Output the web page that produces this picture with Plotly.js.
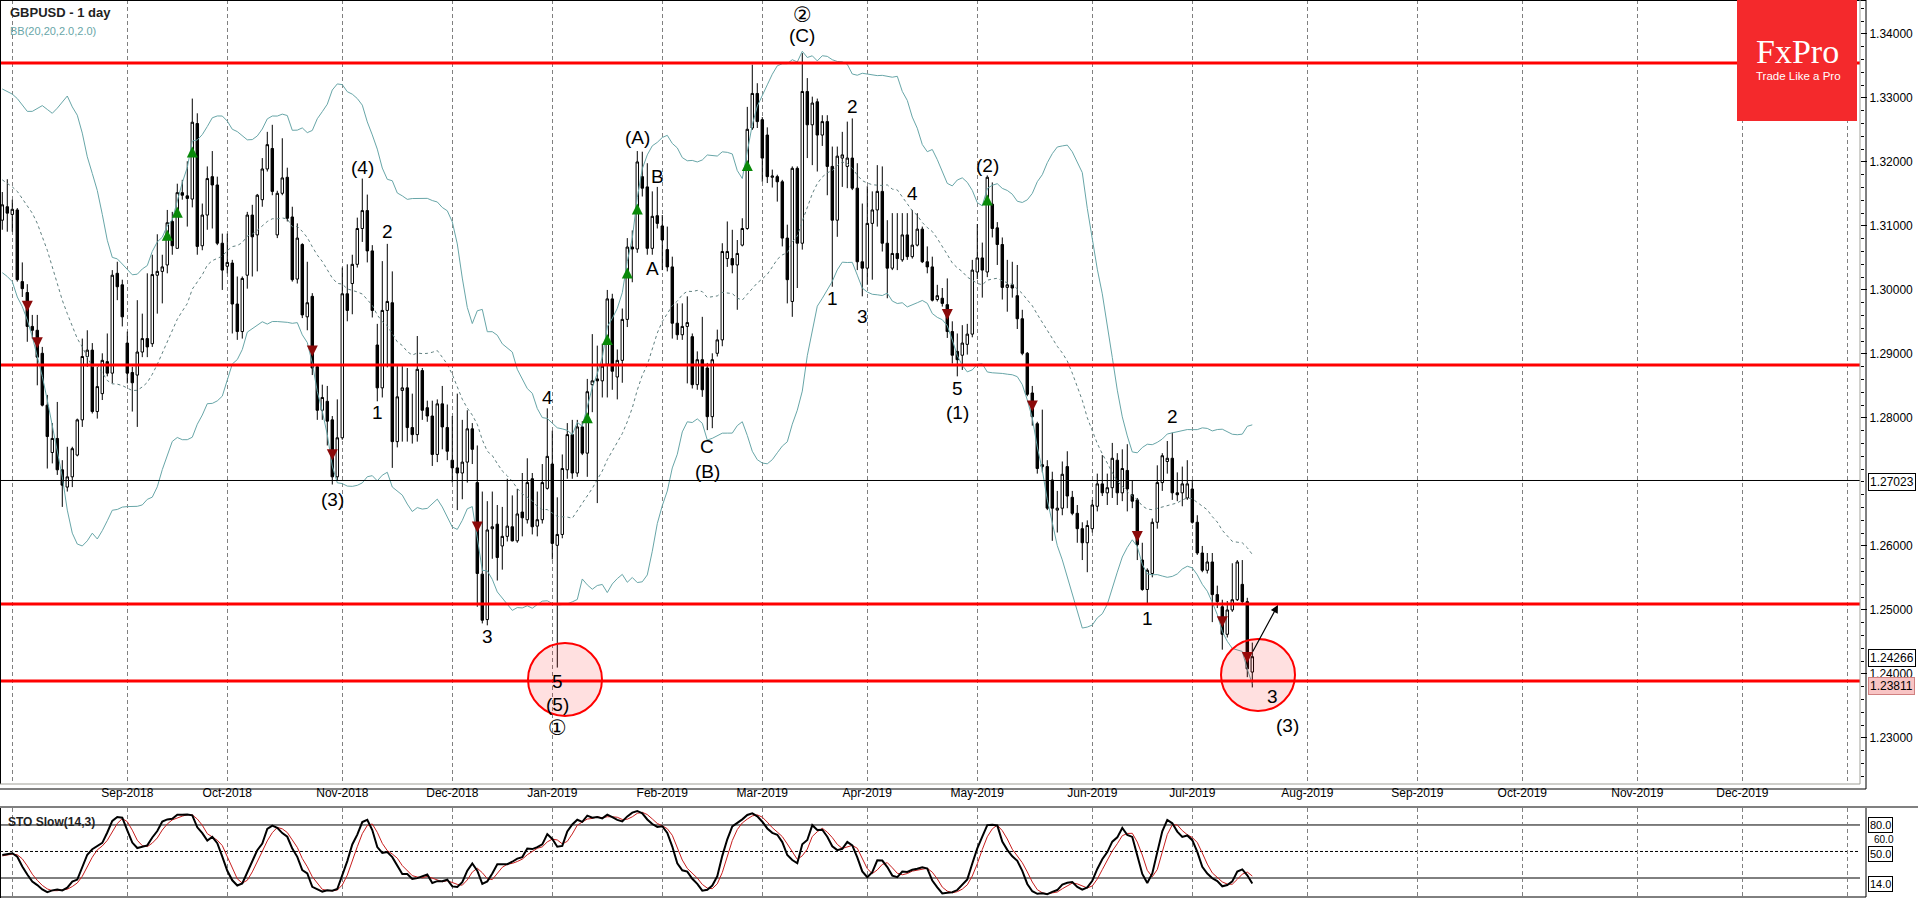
<!DOCTYPE html>
<html><head><meta charset="utf-8">
<script src="https://cdn.plot.ly/plotly-3.0.1.min.js"></script>
<style>html,body{margin:0;padding:0;background:#fff;overflow:hidden}#chart{width:1918px;height:898px}</style>
</head><body><div id="chart"></div>
<script>
// ---------------- DATA ----------------
const dates = [
'2018-07-30','2018-07-31',
'2018-08-01','2018-08-02','2018-08-03','2018-08-06','2018-08-07','2018-08-08','2018-08-09','2018-08-10','2018-08-13','2018-08-14','2018-08-15','2018-08-16','2018-08-17','2018-08-20','2018-08-21','2018-08-22','2018-08-23','2018-08-24','2018-08-27','2018-08-28','2018-08-29','2018-08-30','2018-08-31',
'2018-09-03','2018-09-04','2018-09-05','2018-09-06','2018-09-07','2018-09-10','2018-09-11','2018-09-12','2018-09-13','2018-09-14','2018-09-17','2018-09-18','2018-09-19','2018-09-20','2018-09-21','2018-09-24','2018-09-25','2018-09-26','2018-09-27','2018-09-28',
'2018-10-01','2018-10-02','2018-10-03','2018-10-04','2018-10-05','2018-10-08','2018-10-09','2018-10-10','2018-10-11','2018-10-12','2018-10-15','2018-10-16','2018-10-17','2018-10-18','2018-10-19','2018-10-22','2018-10-23','2018-10-24','2018-10-25','2018-10-26','2018-10-29','2018-10-30','2018-10-31',
'2018-11-01','2018-11-02','2018-11-05','2018-11-06','2018-11-07','2018-11-08','2018-11-09','2018-11-12','2018-11-13','2018-11-14','2018-11-15','2018-11-16','2018-11-19','2018-11-20','2018-11-21','2018-11-22','2018-11-23','2018-11-26','2018-11-27','2018-11-28','2018-11-29','2018-11-30',
'2018-12-03','2018-12-04','2018-12-05','2018-12-06','2018-12-07','2018-12-10','2018-12-11','2018-12-12','2018-12-13','2018-12-14','2018-12-17','2018-12-18','2018-12-19','2018-12-20','2018-12-21','2018-12-24','2018-12-26','2018-12-27','2018-12-28','2018-12-31',
'2019-01-02','2019-01-03','2019-01-04','2019-01-07','2019-01-08','2019-01-09','2019-01-10','2019-01-11','2019-01-14','2019-01-15','2019-01-16','2019-01-17','2019-01-18','2019-01-21','2019-01-22','2019-01-23','2019-01-24','2019-01-25','2019-01-28','2019-01-29','2019-01-30','2019-01-31',
'2019-02-01','2019-02-04','2019-02-05','2019-02-06','2019-02-07','2019-02-08','2019-02-11','2019-02-12','2019-02-13','2019-02-14','2019-02-15','2019-02-18','2019-02-19','2019-02-20','2019-02-21','2019-02-22','2019-02-25','2019-02-26','2019-02-27','2019-02-28',
'2019-03-01','2019-03-04','2019-03-05','2019-03-06','2019-03-07','2019-03-08','2019-03-11','2019-03-12','2019-03-13','2019-03-14','2019-03-15','2019-03-18','2019-03-19','2019-03-20','2019-03-21','2019-03-22','2019-03-25','2019-03-26','2019-03-27','2019-03-28','2019-03-29',
'2019-04-01','2019-04-02','2019-04-03','2019-04-04','2019-04-05','2019-04-08','2019-04-09','2019-04-10','2019-04-11','2019-04-12','2019-04-15','2019-04-16','2019-04-17','2019-04-18','2019-04-19','2019-04-22','2019-04-23','2019-04-24','2019-04-25','2019-04-26','2019-04-29','2019-04-30',
'2019-05-01','2019-05-02','2019-05-03','2019-05-06','2019-05-07','2019-05-08','2019-05-09','2019-05-10','2019-05-13','2019-05-14','2019-05-15','2019-05-16','2019-05-17','2019-05-20','2019-05-21','2019-05-22','2019-05-23','2019-05-24','2019-05-27','2019-05-28','2019-05-29','2019-05-30','2019-05-31',
'2019-06-03','2019-06-04','2019-06-05','2019-06-06','2019-06-07','2019-06-10','2019-06-11','2019-06-12','2019-06-13','2019-06-14','2019-06-17','2019-06-18','2019-06-19','2019-06-20','2019-06-21','2019-06-24','2019-06-25','2019-06-26','2019-06-27','2019-06-28',
'2019-07-01','2019-07-02','2019-07-03','2019-07-04','2019-07-05','2019-07-08','2019-07-09','2019-07-10','2019-07-11','2019-07-12','2019-07-15','2019-07-16','2019-07-17'
];
const openP = [
1.3109,1.3130,1.3118,1.3125,1.3013,1.2996,1.2943,1.2937,1.2901,1.2820,
1.2746,1.2768,1.2719,1.2692,1.2708,1.2742,1.2797,1.2896,1.2906,1.2810,
1.2838,1.2888,1.2870,1.3026,1.3008,1.2917,1.2871,1.2867,1.2903,1.2924,
1.2916,1.3023,1.3029,1.3039,1.3107,1.3065,1.3152,1.3147,1.3142,1.3260,
1.3069,1.3117,1.3177,1.3164,1.3073,1.3037,1.3042,1.2978,1.2935,1.3023,
1.3117,1.3086,1.3141,1.3189,1.3221,1.3086,1.3151,1.3176,1.3114,1.3017,
1.3071,1.2958,1.2990,1.2880,1.2812,1.2826,1.2797,1.2708,1.2769,1.2994,
1.3010,1.3040,1.3096,1.3124,1.3061,1.2914,1.2847,1.2968,1.2980,1.2763,
1.2843,1.2847,1.2785,1.2774,1.2874,1.2816,1.2803,1.2743,1.2822,1.2785,
1.2734,1.2722,1.2714,1.2731,1.2783,1.2699,1.2556,1.2485,1.2627,1.2634,
1.2600,1.2615,1.2630,1.2608,1.2653,1.2641,1.2705,1.2631,1.2641,1.2690,
1.2728,1.2601,1.2618,1.2719,1.2774,1.2714,1.2786,1.2745,1.2852,1.2861,
1.2858,1.2884,1.2986,1.2864,1.2890,1.2954,1.3067,1.3064,1.3177,1.3161,
1.3065,1.3116,1.3100,1.3063,1.3036,1.2948,1.2930,1.2943,1.2927,1.2852,
1.2891,1.2878,1.2802,1.2901,1.2922,1.3049,1.3049,1.3039,1.3070,1.3096,
1.3253,1.3307,1.3266,1.3242,1.3176,1.3177,1.3169,1.3081,1.2982,1.3190,
1.3073,1.3310,1.3258,1.3294,1.3242,1.3263,1.3193,1.3109,1.3206,1.3193,
1.3206,1.3159,1.3044,1.3034,1.3104,1.3125,1.3154,1.3073,1.3034,1.3057,
1.3047,1.3086,1.3052,1.3070,1.3095,1.3044,1.3036,1.2985,1.2987,1.2977,
1.2935,1.2904,1.2898,1.2915,1.2931,1.3028,1.3050,1.3028,1.3134,1.3097,
1.3071,1.3004,1.3008,1.2991,1.2955,1.2901,1.2839,1.2791,1.2724,1.2724,
1.2703,1.2656,1.2659,1.2724,1.2676,1.2651,1.2627,1.2605,1.2627,1.2662,
1.2697,1.2683,1.2691,1.2734,1.2683,1.2718,1.2680,1.2672,1.2578,1.2532,
1.2557,1.2637,1.2699,1.2732,1.2737,1.2683,1.2683,1.2675,1.2689,1.2637,
1.2589,1.2562,1.2575,1.2524,1.2505,1.2462,1.2500,1.2516,1.2540,1.2513,
1.2403];
const highP = [
1.3153,1.3173,1.3141,1.3128,1.3043,1.3009,1.2961,1.2961,1.2911,1.2836,
1.2792,1.2825,1.2734,1.2755,1.2755,1.2799,1.2924,1.2937,1.2917,1.2880,
1.2901,1.2932,1.3031,1.3044,1.3016,1.2935,1.2880,1.2984,1.2963,1.3026,
1.3055,1.3087,1.3055,1.3125,1.3122,1.3166,1.3172,1.3201,1.3299,1.3276,
1.3135,1.3193,1.3217,1.3177,1.3088,1.3088,1.3047,1.3021,1.3021,1.3122,
1.3133,1.3150,1.3206,1.3247,1.3258,1.3155,1.3237,1.3191,1.3130,1.3104,
1.3073,1.3044,1.2995,1.2883,1.2852,1.2850,1.2803,1.2829,1.3035,1.3040,
1.3055,1.3113,1.3174,1.3149,1.3070,1.2947,1.3045,1.3072,1.3029,1.2881,
1.2881,1.2878,1.2838,1.2928,1.2878,1.2827,1.2827,1.2829,1.2850,1.2821,
1.2803,1.2838,1.2797,1.2812,1.2792,1.2757,1.2685,1.2670,1.2685,1.2664,
1.2661,1.2705,1.2679,1.2689,1.2714,1.2737,1.2714,1.2685,1.2728,1.2815,
1.2780,1.2676,1.2743,1.2792,1.2797,1.2797,1.2795,1.2861,1.2931,1.2913,
1.2916,1.3000,1.2994,1.2907,1.2971,1.3081,1.3093,1.3217,1.3216,1.3198,
1.3154,1.3161,1.3117,1.3099,1.3052,1.2979,1.2979,1.2990,1.2932,1.2904,
1.2958,1.2886,1.2901,1.2938,1.3073,1.3107,1.3094,1.3078,1.3112,1.3286,
1.3352,1.3323,1.3270,1.3254,1.3188,1.3180,1.3172,1.3102,1.3193,1.3193,
1.3370,1.3331,1.3302,1.3299,1.3273,1.3273,1.3224,1.3224,1.3247,1.3263,
1.3268,1.3198,1.3135,1.3162,1.3154,1.3195,1.3193,1.3109,1.3120,1.3120,
1.3120,1.3120,1.3125,1.3120,1.3099,1.3068,1.3052,1.3008,1.3003,1.3018,
1.2951,1.2932,1.2945,1.2947,1.3047,1.3103,1.3074,1.3179,1.3168,1.3106,
1.3082,1.3047,1.3044,1.3039,1.2969,1.2903,1.2850,1.2794,1.2813,1.2734,
1.2716,1.2686,1.2732,1.2748,1.2686,1.2664,1.2637,1.2640,1.2672,1.2713,
1.2742,1.2713,1.2761,1.2745,1.2751,1.2759,1.2702,1.2675,1.2605,1.2565,
1.2643,1.2726,1.2745,1.2764,1.2777,1.2715,1.2724,1.2734,1.2702,1.2648,
1.2600,1.2589,1.2589,1.2538,1.2516,1.2514,1.2573,1.2578,1.2578,1.2519,
1.2449];
const lowP = [
1.3094,1.3091,1.3091,1.3013,1.2989,1.2919,1.2924,1.2851,1.2818,1.2721,
1.2729,1.2711,1.2661,1.2685,1.2692,1.2740,1.2786,1.2880,1.2807,1.2799,
1.2828,1.2865,1.2854,1.2984,1.2943,1.2854,1.2810,1.2786,1.2895,1.2895,
1.2911,1.2963,1.2979,1.3026,1.3055,1.3065,1.3141,1.3099,1.3129,1.3055,
1.3062,1.3094,1.3096,1.3070,1.3000,1.3026,1.2932,1.2922,1.2924,1.3002,
1.3021,1.3029,1.3130,1.3185,1.3148,1.3081,1.3148,1.3107,1.3013,1.3010,
1.2956,1.2937,1.2867,1.2797,1.2797,1.2757,1.2696,1.2702,1.2766,1.2951,
1.2962,1.3035,1.3075,1.3043,1.2957,1.2826,1.2832,1.2879,1.2722,1.2754,
1.2763,1.2763,1.2760,1.2763,1.2797,1.2794,1.2725,1.2731,1.2751,1.2734,
1.2699,1.2656,1.2673,1.2699,1.2728,1.2505,1.2479,1.2476,1.2580,1.2546,
1.2563,1.2607,1.2607,1.2605,1.2615,1.2635,1.2618,1.2615,1.2635,1.2688,
1.2579,1.2410,1.2612,1.2705,1.2705,1.2708,1.2742,1.2708,1.2809,1.2667,
1.2832,1.2832,1.2844,1.2829,1.2855,1.2942,1.3012,1.3058,1.3146,1.3055,
1.3055,1.3096,1.3031,1.3029,1.2924,1.2922,1.2922,1.2854,1.2846,1.2844,
1.2833,1.2781,1.2784,1.2896,1.2912,1.3036,1.3026,1.2969,1.3068,1.3094,
1.3250,1.3253,1.3169,1.3167,1.3160,1.3138,1.3068,1.2979,1.2958,1.3003,
1.3063,1.3206,1.3195,1.3185,1.3225,1.3148,1.3005,1.3083,1.3161,1.3159,
1.3156,1.3031,1.2990,1.3008,1.3016,1.3099,1.3060,1.2987,1.3031,1.3031,
1.3044,1.3047,1.3049,1.3068,1.3042,1.3026,1.2982,1.2982,1.2974,1.2925,
1.2885,1.2865,1.2875,1.2899,1.2926,1.3017,1.2988,1.3020,1.3082,1.3039,
1.2985,1.2966,1.2988,1.2939,1.2898,1.2834,1.2788,1.2713,1.2715,1.2656,
1.2608,1.2621,1.2648,1.2659,1.2648,1.2605,1.2578,1.2559,1.2621,1.2654,
1.2678,1.2664,1.2675,1.2664,1.2670,1.2654,1.2659,1.2578,1.2530,1.2508,
1.2551,1.2627,1.2686,1.2713,1.2672,1.2670,1.2662,1.2672,1.2635,1.2586,
1.2559,1.2557,1.2481,1.2503,1.2438,1.2457,1.2497,1.2514,1.2511,1.2395,
1.2379];
const closeP = [
1.3133,1.3120,1.3126,1.3016,1.3002,1.2943,1.2937,1.2895,1.2820,1.2771,
1.2768,1.2719,1.2695,1.2708,1.2752,1.2797,1.2896,1.2906,1.2810,1.2849,
1.2890,1.2870,1.3023,1.3005,1.2958,1.2870,1.2855,1.2903,1.2924,1.2911,
1.3024,1.3029,1.3036,1.3105,1.3069,1.3152,1.3148,1.3143,1.3262,1.3068,
1.3117,1.3174,1.3164,1.3073,1.3031,1.3043,1.2978,1.2935,1.3018,1.3117,
1.3083,1.3148,1.3189,1.3227,1.3154,1.3151,1.3175,1.3112,1.3016,1.3081,
1.2961,1.2980,1.2878,1.2812,1.2832,1.2795,1.2708,1.2769,1.2994,1.2968,
1.3040,1.3096,1.3124,1.3061,1.2968,1.2847,1.2968,1.2982,1.2763,1.2833,
1.2847,1.2785,1.2774,1.2876,1.2812,1.2803,1.2743,1.2822,1.2786,1.2748,
1.2722,1.2714,1.2731,1.2783,1.2751,1.2557,1.2484,1.2625,1.2630,1.2582,
1.2615,1.2631,1.2608,1.2650,1.2644,1.2699,1.2630,1.2641,1.2699,1.2740,
1.2604,1.2618,1.2721,1.2774,1.2714,1.2786,1.2745,1.2841,1.2858,1.2858,
1.2881,1.2986,1.2873,1.2890,1.2954,1.3067,1.3064,1.3200,1.3159,1.3065,
1.3115,1.3104,1.3078,1.3036,1.2948,1.2930,1.2943,1.2949,1.2852,1.2891,
1.2844,1.2802,1.2891,1.2922,1.3060,1.3060,1.3039,1.3057,1.3096,1.3251,
1.3307,1.3263,1.3206,1.3177,1.3178,1.3169,1.3081,1.3016,1.3190,1.3073,
1.3310,1.3258,1.3292,1.3242,1.3263,1.3193,1.3109,1.3209,1.3211,1.3206,
1.3159,1.3044,1.3034,1.3104,1.3125,1.3154,1.3073,1.3034,1.3057,1.3049,
1.3086,1.3052,1.3070,1.3095,1.3044,1.3036,1.2984,1.2991,1.2979,1.2935,
1.2898,1.2891,1.2917,1.2931,1.3031,1.3050,1.3031,1.3176,1.3096,1.3071,
1.3004,1.3008,1.3003,1.2955,1.2901,1.2837,1.2802,1.2721,1.2727,1.2659,
1.2659,1.2659,1.2712,1.2678,1.2651,1.2627,1.2605,1.2632,1.2664,1.2697,
1.2683,1.2691,1.2737,1.2683,1.2721,1.2689,1.2670,1.2602,1.2532,1.2562,
1.2637,1.2699,1.2741,1.2737,1.2683,1.2680,1.2697,1.2697,1.2637,1.2589,
1.2562,1.2575,1.2524,1.2513,1.2462,1.2500,1.2516,1.2575,1.2513,1.2408,
1.2427];

// Indicator values at the left edge (before 20 bars of history are visible)
const bbUpperHead  = [1.3314,1.3310,1.3306,1.3299,1.3289,1.3279,1.3279,1.3284,1.3288,1.3282,1.3276,1.3284,1.3294,1.3303,1.3286,1.3273,1.3245,1.3208,1.3182];
const bbMiddleHead = [1.3172,1.3167,1.3161,1.3154,1.3143,1.3133,1.3120,1.3104,1.3083,1.3062,1.3036,1.3010,1.2984,1.2963,1.2943,1.2924,1.2911,1.2896,1.2880];
const bbLowerHead  = [1.3027,1.3021,1.3013,1.2989,1.2974,1.2953,1.2927,1.2896,1.2865,1.2828,1.2786,1.2750,1.2708,1.2656,1.2620,1.2603,1.2600,1.2608,1.2620];
const stochKHead = [46,47,48,44,33,24,16,12,7,4,6,7,6,9,16];
const stochDHead = [45,46];

const levelLines = [1.33547, 1.28828, 1.25094, 1.2389];
const pivotLine = 1.27023;
const priceTicks = [1.23,1.24,1.25,1.26,1.28,1.29,1.30,1.31,1.32,1.33,1.34];
const monthTicks = ['2018-08-01','2018-09-03','2018-10-01','2018-11-01','2018-12-03','2019-01-02','2019-02-01','2019-03-01','2019-04-01','2019-05-01','2019-06-03','2019-07-01','2019-08-01','2019-09-02','2019-10-01','2019-11-01','2019-12-02','2020-01-01'];
const monthLabels = ['','Sep-2018','Oct-2018','Nov-2018','Dec-2018','Jan-2019','Feb-2019','Mar-2019','Apr-2019','May-2019','Jun-2019','Jul-2019','Aug-2019','Sep-2019','Oct-2019','Nov-2019','Dec-2019',''];

const upSignalDates  = ['2018-09-13','2018-09-17','2018-09-20','2019-01-11','2019-01-17','2019-01-23','2019-01-25','2019-02-26','2019-05-03'];
const upSignalPrices = [1.3094,1.3130,1.3224,1.2809,1.2931,1.3035,1.3135,1.3203,1.3149];
const downSignalDates  = ['2018-08-06','2018-08-08','2018-10-24','2018-10-30','2018-12-10','2019-04-23','2019-05-16','2019-06-14','2019-07-09','2019-07-16'];
const downSignalPrices = [1.2966,1.2909,1.2896,1.2734,1.2621,1.2953,1.2810,1.2606,1.2473,1.2417];

const waveText   = ['(3)','(4)','1','2','3','4','5','(5)','\u2460','(A)','B','A','C','(B)','\u2461','(C)','1','2','3','4','5','(1)','(2)','1','2','3','(3)'];
const waveDates  = ['2018-10-30','2018-11-07','2018-11-12','2018-11-14','2018-12-12','2018-12-31','2019-01-03','2019-01-03','2019-01-03','2019-01-25','2019-01-31','2019-01-30','2019-02-14','2019-02-14','2019-03-13','2019-03-13','2019-03-21','2019-03-27','2019-03-29','2019-04-12','2019-04-25','2019-04-25','2019-05-03','2019-06-18','2019-06-25','2019-07-23','2019-07-26'];
const wavePrices = [1.2673,1.3191,1.2809,1.3091,1.2459,1.2832,1.2388,1.2353,1.2316,1.3238,1.3178,1.3034,1.2755,1.2717,1.3430,1.3398,1.2987,1.3286,1.2958,1.3151,1.2846,1.2808,1.3194,1.2487,1.2802,1.2365,1.2320];

// ---------------- BUILD ----------------
const W = 1918, H = 898, PW = 1860;
const px = v => v / PW;            // pixel -> paper x
const py = v => (H - v) / H;       // pixel -> paper y
const X = dates.map(d => d + ' 12:00');
const n = closeP.length;

// Bollinger (20, 2)
const bbU = [], bbM = [], bbL = [];
for (let i = 0; i < n; i++) {
  if (i < 19) { bbU.push(bbUpperHead[i]); bbM.push(bbMiddleHead[i]); bbL.push(bbLowerHead[i]); continue; }
  let s = 0; for (let j = i - 19; j <= i; j++) s += closeP[j];
  const m = s / 20; let v = 0;
  for (let j = i - 19; j <= i; j++) v += (closeP[j] - m) ** 2;
  const sd = Math.sqrt(v / 20);
  bbM.push(m); bbU.push(m + 2 * sd); bbL.push(m - 2 * sd);
}
// Stochastic slow (14,3,3)
const ll = [], hh = [];
for (let i = 0; i < n; i++) {
  if (i < 13) { ll.push(null); hh.push(null); continue; }
  let a = Infinity, b = -Infinity;
  for (let j = i - 13; j <= i; j++) { a = Math.min(a, lowP[j]); b = Math.max(b, highP[j]); }
  ll.push(a); hh.push(b);
}
const K = [];
for (let i = 0; i < n; i++) {
  if (i < 15) { K.push(stochKHead[i]); continue; }
  let num = 0, den = 0;
  for (let j = i - 2; j <= i; j++) { num += closeP[j] - ll[j]; den += hh[j] - ll[j]; }
  K.push(den > 0 ? 100 * num / den : 50);
}
const D = K.map((v, i) => i < 2 ? stochDHead[i] : (K[i] + K[i - 1] + K[i - 2]) / 3);

const FONT = 'Liberation Sans, Arial, sans-serif';
const traces = [
  { type: 'scatter', mode: 'lines', x: X, y: bbU, line: { color: 'rgb(104,166,168)', width: 1 }, hoverinfo: 'skip', xaxis: 'x', yaxis: 'y' },
  { type: 'scatter', mode: 'lines', x: X, y: bbL, line: { color: 'rgb(104,166,168)', width: 1 }, hoverinfo: 'skip', xaxis: 'x', yaxis: 'y' },
  { type: 'scatter', mode: 'lines', x: X, y: bbM, line: { color: 'rgb(96,128,128)', width: 1, dash: '3px,3px' }, hoverinfo: 'skip', xaxis: 'x', yaxis: 'y' },
  { type: 'candlestick', x: X, open: openP, high: highP, low: lowP, close: closeP,
    increasing: { line: { color: '#000', width: 1 }, fillcolor: '#fff' },
    decreasing: { line: { color: '#000', width: 1 }, fillcolor: '#000' },
    whiskerwidth: 0, hoverinfo: 'skip', xaxis: 'x', yaxis: 'y' },
  { type: 'scatter', mode: 'markers', x: upSignalDates.map(d => d + ' 12:00'), y: upSignalPrices,
    marker: { symbol: 'arrow-up', size: 11, color: '#0a8a0a', line: { width: 0 } }, hoverinfo: 'skip', xaxis: 'x', yaxis: 'y' },
  { type: 'scatter', mode: 'markers', x: downSignalDates.map(d => d + ' 12:00'), y: downSignalPrices,
    marker: { symbol: 'arrow-down', size: 11, color: '#8b0a0a', line: { width: 0 } }, hoverinfo: 'skip', xaxis: 'x', yaxis: 'y' },
  { type: 'scatter', mode: 'lines', x: X, y: D, line: { color: 'rgb(200,30,30)', width: 1 }, hoverinfo: 'skip', xaxis: 'x2', yaxis: 'y2' },
  { type: 'scatter', mode: 'lines', x: X, y: K, line: { color: '#000', width: 2 }, hoverinfo: 'skip', xaxis: 'x2', yaxis: 'y2' }
];

const rb = [{ bounds: ['sat', 'mon'] }, { values: ['2018-12-25', '2019-01-01', '2019-12-25'] }];
const xr = ['2018-07-30 01:00', '2020-01-06 01:00'];
const mainDomain = [py(784), 1];
const stoDomain = [py(897), py(808)];

const shapes = [];
shapes.push({ type: 'circle', xref: 'paper', yref: 'paper', x0: px(528), x1: px(602), y0: py(716), y1: py(643), fillcolor: 'rgba(255,0,0,0.12)', line: { color: '#ff0000', width: 2 }, layer: 'above' });
shapes.push({ type: 'circle', xref: 'paper', yref: 'paper', x0: px(1221), x1: px(1295), y0: py(711), y1: py(639), fillcolor: 'rgba(255,0,0,0.12)', line: { color: '#ff0000', width: 2 }, layer: 'above' });
levelLines.forEach(v => shapes.push({ type: 'line', xref: 'paper', yref: 'y', x0: 0, x1: 1, y0: v, y1: v, line: { color: '#ff0000', width: 3 }, layer: 'above' }));
shapes.push({ type: 'line', xref: 'paper', yref: 'y', x0: 0, x1: 1, y0: pivotLine, y1: pivotLine, line: { color: '#000', width: 1 }, layer: 'above' });
[[80, 'solid'], [50, 'dash'], [20, 'solid']].forEach(([v, d]) => shapes.push({ type: 'line', xref: 'paper', yref: 'y2', x0: 0, x1: 1, y0: v, y1: v, line: { color: '#000', width: 1, dash: d === 'dash' ? '3px,2px' : 'solid' }, layer: 'below' }));
const L = (x0, y0, x1, y1, c, w) => shapes.push({ type: 'line', xref: 'paper', yref: 'paper', x0: px(x0), x1: px(x1), y0: py(y0), y1: py(y1), line: { color: c, width: w }, layer: 'above' });
L(0.5, 0, 0.5, 784, '#000', 1);
L(0, 0.5, 1866, 0.5, '#000', 1);
L(0, 784, 1860, 784, '#a0a098', 1);
L(0, 789, 1866, 789, '#000', 1);
L(1860, 0, 1860, 784, '#a0a098', 1);
L(1866, 0, 1866, 789, '#000', 1);
L(0, 807, 1918, 807, '#808080', 2);
L(0.5, 808, 0.5, 898, '#000', 1);
L(0, 897, 1866, 897, '#000', 1);
L(1866, 808, 1866, 897, '#000', 1);
shapes.push({ type: 'rect', xref: 'paper', yref: 'paper', x0: px(1737), x1: px(1857), y0: py(121), y1: py(0), fillcolor: '#f4292c', line: { width: 0 }, layer: 'above' });

const annotations = [];
for (let i = 0; i < waveText.length; i++) {
  const circled = waveText[i] === '\u2460' || waveText[i] === '\u2461';
  annotations.push({ xref: 'x', yref: 'y', x: waveDates[i] + ' 12:00', y: wavePrices[i], text: waveText[i], showarrow: false,
    font: { family: circled ? 'DejaVu Sans, Noto Sans CJK SC, sans-serif' : FONT, size: circled ? 21 : 19, color: '#000' }, xanchor: 'center', yanchor: 'middle' });
}
annotations.push({ xref: 'paper', yref: 'paper', x: px(1278), y: py(605), ax: -26, ay: 48, text: '', showarrow: true, arrowhead: 2, arrowsize: 1.3, arrowwidth: 1.2, arrowcolor: '#000' });
annotations.push({ xref: 'paper', yref: 'paper', x: px(8), y: py(13), text: '<b>GBPUSD - 1 day</b>', showarrow: false, xanchor: 'left', yanchor: 'middle', font: { family: FONT, size: 13, color: '#222' } });
annotations.push({ xref: 'paper', yref: 'paper', x: px(8), y: py(31), text: 'BB(20,20,2.0,2.0)', showarrow: false, xanchor: 'left', yanchor: 'middle', font: { family: FONT, size: 11, color: 'rgb(104,166,168)' } });
annotations.push({ xref: 'paper', yref: 'paper', x: px(6), y: py(822), text: '<b>STO Slow(14,3)</b>', showarrow: false, xanchor: 'left', yanchor: 'middle', font: { family: FONT, size: 12, color: '#222' } });
annotations.push({ xref: 'paper', yref: 'paper', x: px(1797), y: py(52), text: 'FxPro', showarrow: false, xanchor: 'center', yanchor: 'middle', font: { family: 'Liberation Serif, DejaVu Serif, serif', size: 34, color: '#fff' } });
annotations.push({ xref: 'paper', yref: 'paper', x: px(1798), y: py(76), text: 'Trade Like a Pro', showarrow: false, xanchor: 'center', yanchor: 'middle', font: { family: FONT, size: 11.5, color: '#fff' } });
const box = (y, t, bg, bc, fs) => annotations.push({ xref: 'paper', yref: 'paper', x: px(1868), y: py(y), text: t, showarrow: false, xanchor: 'left', yanchor: 'middle',
  font: { family: FONT, size: fs || 12, color: '#000' }, bgcolor: bg, bordercolor: bc, borderwidth: 1, borderpad: 1 });
box(482, '1.27023', '#fff', '#000');
box(657.5, '1.24266', '#fff', '#000');
box(686, '1.23811', '#f8c4c4', '#d08080');
box(825, '80.0', '#fff', '#000', 11);
annotations.push({ xref: 'paper', yref: 'paper', x: px(1872), y: py(839.5), text: '60.0', showarrow: false, xanchor: 'left', yanchor: 'middle', font: { family: FONT, size: 10, color: '#000' } });
box(854, '50.0', '#fff', '#000', 11);
box(884, '14.0', '#fff', '#000', 11);

const layout = {
  width: W, height: H, margin: { l: 0, r: W - PW, t: 0, b: 0 },
  paper_bgcolor: '#fff', plot_bgcolor: '#fff', showlegend: false,
  font: { family: FONT, size: 12, color: '#000' },
  xaxis: { type: 'date', domain: [0, 1], anchor: 'y', range: xr, rangebreaks: rb, rangeslider: { visible: false },
    tickmode: 'array', tickvals: monthTicks.map(d => d + ' 12:00'), ticktext: monthLabels, ticks: '',
    tickfont: { family: FONT, size: 12, color: '#000' }, showgrid: true, gridcolor: '#808080', gridwidth: 1, griddash: '4px,3px',
    showline: false, zeroline: false, fixedrange: true },
  xaxis2: { type: 'date', domain: [0, 1], anchor: 'y2', matches: 'x', range: xr, rangebreaks: rb, rangeslider: { visible: false },
    tickmode: 'array', tickvals: monthTicks.map(d => d + ' 12:00'), showticklabels: false, ticks: '',
    showgrid: true, gridcolor: '#808080', gridwidth: 1, griddash: '4px,3px', showline: false, zeroline: false },
  yaxis: { domain: mainDomain, range: [1.22281, 1.3453], side: 'right', tickmode: 'array', tickvals: priceTicks, ticktext: priceTicks.map(v => v.toFixed(5)),
    ticks: 'outside', ticklen: 6, tickcolor: '#000', tickfont: { family: FONT, size: 12, color: '#000' },
    minor: { tickmode: 'linear', tick0: 1.23, dtick: 0.002, ticks: 'outside', ticklen: 3, tickcolor: '#000', showgrid: false },
    showgrid: false, zeroline: false, showline: false, fixedrange: true },
  yaxis2: { domain: stoDomain, range: [-1.5, 99.2], side: 'right', showticklabels: false, ticks: '', showgrid: false, zeroline: false, showline: false },
  shapes: shapes, annotations: annotations
};
Plotly.newPlot('chart', traces, layout, { displayModeBar: false, staticPlot: true });
</script></body></html>
